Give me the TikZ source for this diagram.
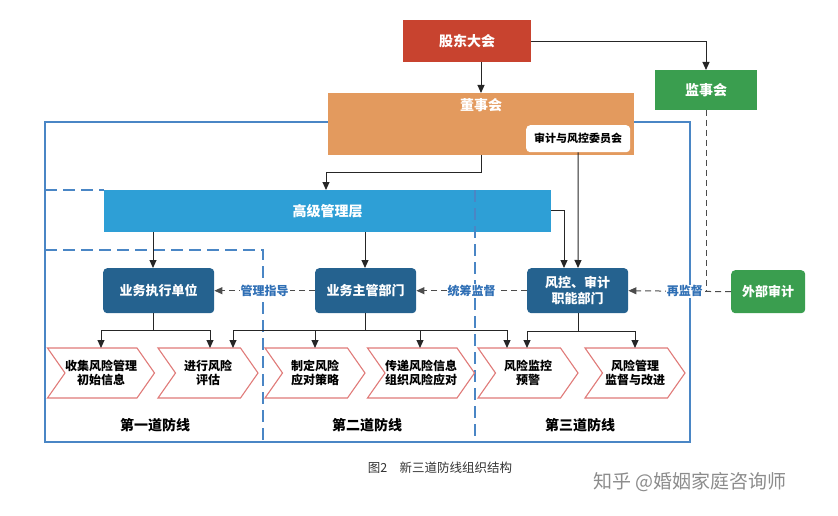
\documentclass[tikz,border=0pt]{standalone}
\usepackage{fontspec}
\setmainfont{Noto Sans CJK SC}
\usetikzlibrary{arrows.meta,shapes.symbols}
\definecolor{cred}{HTML}{C8432F}
\definecolor{cgreen}{HTML}{3A9E4F}
\definecolor{corange}{HTML}{E39A5E}
\definecolor{clight}{HTML}{2E9FD6}
\definecolor{cdark}{HTML}{25628F}
\definecolor{cframe}{HTML}{4A86C5}
\definecolor{cchev}{HTML}{E07A78}
\definecolor{clab}{HTML}{2F6FB5}
\begin{document}
\begin{tikzpicture}[x=1pt,y=-1pt,
  box/.style={draw=none,fill=#1,text=white,inner sep=0pt,anchor=north west},
  rbox/.style={box=#1,rounded corners=4pt},
  wt/.style={text=white,font=\bfseries\fontsize{13}{15.5}\selectfont,align=center},
  chev/.style={signal,signal to=east,signal from=west,signal pointer angle=110,draw=cchev,line width=1.1pt,fill=white,minimum width=100pt,minimum height=50pt,inner sep=0pt,align=center,font=\bfseries\fontsize{12}{14}\selectfont},
  arr/.style={-{Triangle[length=8pt,width=7pt]},line width=1pt,black!85},
  darr/.style={arr,dashed,dash pattern=on 6pt off 4pt,black!70},
  ln/.style={line width=1pt,black!85},
  lab/.style={font=\bfseries\fontsize{12}{14}\selectfont,text=clab,fill=white,inner sep=1pt},
  fdash/.style={cframe,line width=1.1pt,dash pattern=on 12pt off 6pt}]
\useasboundingbox (0,0) rectangle (838,516);
\draw[cframe,line width=1.2pt] (45,122) rectangle (690,442);
\node[box=cred,minimum width=128pt,minimum height=42pt] (gd) at (403,20) {};
\node[wt,font=\bfseries\fontsize{14}{16}\selectfont] at (gd.center) {股东大会};
\node[box=cgreen,minimum width=102pt,minimum height=40pt] (js) at (655,70) {};
\node[wt,font=\bfseries\fontsize{14}{16}\selectfont] at (js.center) {监事会};
\node[box=corange,minimum width=306pt,minimum height=62pt] (ds) at (328,93) {};
\node[wt,font=\bfseries\fontsize{14}{16}\selectfont] at (481,105) {董事会};
\node[fill=white,rounded corners=4pt,anchor=north west,minimum width=104pt,minimum height=27pt,inner sep=0pt,font=\bfseries\fontsize{11}{13}\selectfont] (sj) at (526,125) {审计与风控委员会};
\node[box=clight,minimum width=447pt,minimum height=42pt] (gj) at (104,190) {};
\node[wt,font=\bfseries\fontsize{14}{16}\selectfont] at (gj.center) {高级管理层};
\draw[fdash] (45,190) -- (104,190);
\draw[fdash] (475,190) -- (475,442);
\draw[fdash] (45,250) -- (263,250) -- (263,442);
\node[rbox=cdark,minimum width=111pt,minimum height=45pt] (zx) at (103,268) {};
\node[wt] at (zx.center) {业务执行单位};
\node[rbox=cdark,minimum width=101pt,minimum height=45pt] (zg) at (315,268) {};
\node[wt] at (zg.center) {业务主管部门};
\node[rbox=cdark,minimum width=101pt,minimum height=45pt] (fk) at (527,268) {};
\node[wt] at (fk.center) {风控、审计\\职能部门};
\node[rbox=cgreen,minimum width=74pt,minimum height=43pt] (wb) at (731,270) {};
\node[wt] at (wb.center) {外部审计};
\draw[arr] (481,62) -- (481,93);
\draw[arr] (531,42) -- (706,42) -- (706,70);
\draw[arr] (481,155) -- (481,172) -- (326,172) -- (326,190);
\draw[arr] (sj.south) -- (578,268);
\draw[arr] (551,210) -- (564,210) -- (564,268);
\draw[arr] (153,232) -- (153,268);
\draw[arr] (365,232) -- (365,268);
\draw[darr] (zg.west) -- (zx.east) node[lab,midway] {管理指导};
\draw[darr] (fk.west) -- (zg.east) node[lab,midway] {统筹监督};
\draw[darr] (wb.west) -- (fk.east) node[lab,pos=0.45] {再监督};
\draw[ln,dashed,dash pattern=on 6pt off 4pt,black!70] (706,110) -- (706,291.5);
\node[chev] (c1) at (101,373) {收集风险管理\\初始信息};
\node[chev] (c2) at (208,373) {进行风险\\评估};
\node[chev] (c3) at (315,373) {制定风险\\应对策略};
\node[chev] (c4) at (421,373) {传递风险信息\\组织风险应对};
\node[chev] (c5) at (528,373) {风险监控\\预警};
\node[chev] (c6) at (635,373) {风险管理\\监督与改进};
\draw[ln] (153,313) -- (153,330);
\draw[arr] (153,330) -- (101,330) -- (101,348);
\draw[arr] (153,330) -- (210,330) -- (210,348);
\draw[ln] (365,313) -- (365,330);
\draw[arr] (365,330) -- (233,330) -- (233,348);
\draw[arr] (315,330) -- (315,348);
\draw[arr] (420,330) -- (420,348);
\draw[arr] (365,330) -- (507,330) -- (507,348);
\draw[ln] (578,313) -- (578,331);
\draw[arr] (578,331) -- (527,331) -- (527,348);
\draw[arr] (578,331) -- (635,331) -- (635,348);
\node[font=\bfseries\fontsize{14}{16}\selectfont] at (155,425) {第一道防线};
\node[font=\bfseries\fontsize{14}{16}\selectfont] at (367,425) {第二道防线};
\node[font=\bfseries\fontsize{14}{16}\selectfont] at (580,425) {第三道防线};
\node[font=\fontsize{12.5}{14}\selectfont,text=black!80] at (440,468) {图2\quad 新三道防线组织结构};
\node[font=\fontsize{19}{22}\selectfont,text=black!45] at (690,482) {知乎 @婚姻家庭咨询师};
\end{tikzpicture}
\end{document}
